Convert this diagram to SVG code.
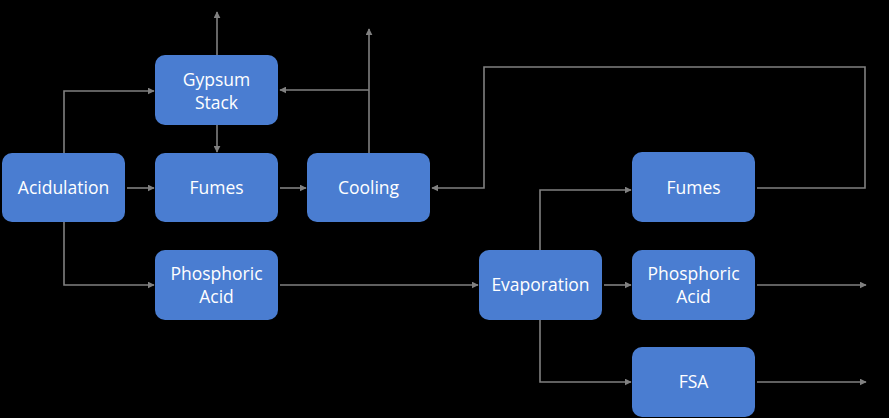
<svg xmlns="http://www.w3.org/2000/svg" width="889" height="418" viewBox="0 0 889 418">
<defs>
<style>
.box{fill:#4a7dd1;}
.lbl{fill:#ffffff;font-family:"Open Sans","Liberation Sans",sans-serif;font-size:17.5px;text-anchor:middle;}
.c{fill:none;stroke:#808080;stroke-width:1.6;}
</style>
<marker id="ah" viewBox="0 0 10 10" refX="9" refY="5" markerWidth="7" markerHeight="7" markerUnits="userSpaceOnUse" orient="auto">
<path d="M0,0 L10,5 L0,10 z" fill="#808080"/>
</marker>
</defs>
<rect width="889" height="418" fill="#000000"/>
<g id="connectors">
<path class="c" d="M217,55 V12" marker-end="url(#ah)"/>
<path class="c" d="M64,153 V91 H154" marker-end="url(#ah)"/>
<path class="c" d="M217,125 V152" marker-end="url(#ah)"/>
<path class="c" d="M127,188 H154" marker-end="url(#ah)"/>
<path class="c" d="M280,188 H306" marker-end="url(#ah)"/>
<path class="c" d="M369,153 V29" marker-end="url(#ah)"/>
<path class="c" d="M369,90 H280" marker-end="url(#ah)"/>
<path class="c" d="M64,222 V285 H154" marker-end="url(#ah)"/>
<path class="c" d="M280,285 H478" marker-end="url(#ah)"/>
<path class="c" d="M540,250 V190 H631" marker-end="url(#ah)"/>
<path class="c" d="M757,188 H865 V67 H484 V188 H432" marker-end="url(#ah)"/>
<path class="c" d="M604,285 H631" marker-end="url(#ah)"/>
<path class="c" d="M757,285 H866" marker-end="url(#ah)"/>
<path class="c" d="M540,320 V382 H631" marker-end="url(#ah)"/>
<path class="c" d="M757,382 H866" marker-end="url(#ah)"/>
</g>
<g id="gypsum-stack"><rect class="box" x="155" y="55" width="123" height="70" rx="10"/><text class="lbl" x="216.5" y="86">Gypsum</text><text class="lbl" x="216.5" y="109">Stack</text></g>
<g id="acidulation"><rect class="box" x="2" y="153" width="123" height="69" rx="10"/><text class="lbl" x="63.5" y="194">Acidulation</text></g>
<g id="fumes-1"><rect class="box" x="155" y="153" width="123" height="69" rx="10"/><text class="lbl" x="216.5" y="194">Fumes</text></g>
<g id="cooling"><rect class="box" x="307" y="153" width="123" height="69" rx="10"/><text class="lbl" x="368.5" y="194">Cooling</text></g>
<g id="phosphoric-acid-1"><rect class="box" x="155" y="250" width="123" height="70" rx="10"/><text class="lbl" x="216.5" y="280">Phosphoric</text><text class="lbl" x="216.5" y="303">Acid</text></g>
<g id="fumes-2"><rect class="box" x="632" y="152" width="123" height="70" rx="10"/><text class="lbl" x="693.5" y="194">Fumes</text></g>
<g id="evaporation"><rect class="box" x="479" y="250" width="123" height="70" rx="10"/><text class="lbl" x="540.5" y="291">Evaporation</text></g>
<g id="phosphoric-acid-2"><rect class="box" x="632" y="250" width="123" height="70" rx="10"/><text class="lbl" x="693.5" y="280">Phosphoric</text><text class="lbl" x="693.5" y="303">Acid</text></g>
<g id="fsa"><rect class="box" x="632" y="347" width="123" height="70" rx="10"/><text class="lbl" x="693.5" y="388">FSA</text></g>
</svg>
